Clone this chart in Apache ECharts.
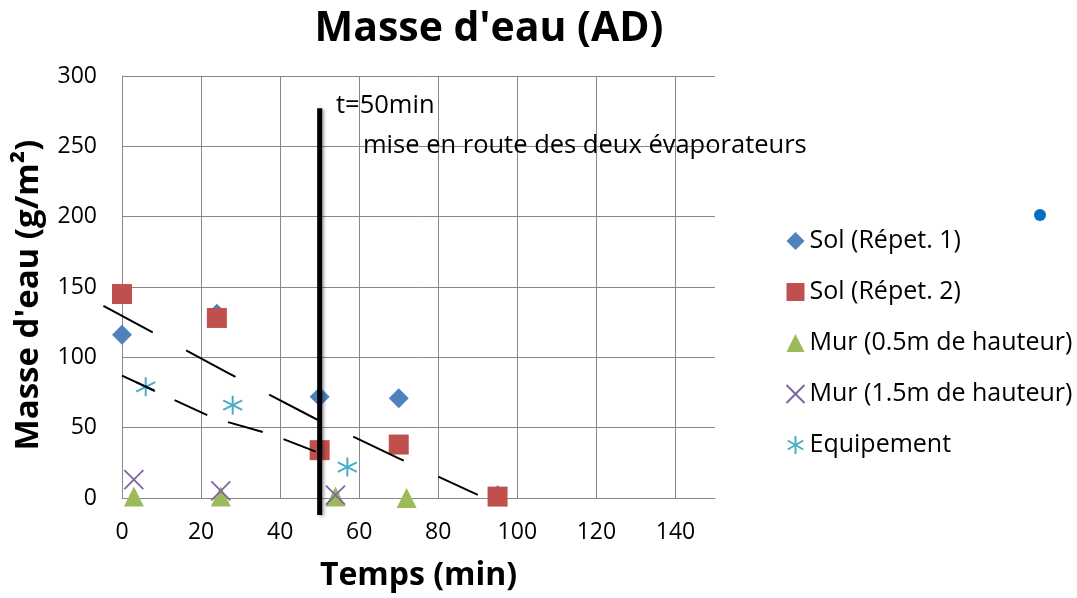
<!DOCTYPE html>
<html>
<head>
<meta charset="utf-8">
<script src="https://cdn.jsdelivr.net/npm/echarts@6/dist/echarts.min.js"></script>
<style>
html,body{margin:0;padding:0;background:#fff;}
#chart{width:1077px;height:598px;}
</style>
</head>
<body>
<div id="chart"></div>
<script>
// ---- data ----
const chartTitle = "Masse d'eau (AD)";
const xTitle = "Temps (min)";
const yTitle = "Masse d'eau (g/m²)";
const seriesNames = ['Sol (Répet. 1)', 'Sol (Répet. 2)', 'Mur (0.5m de hauteur)', 'Mur (1.5m de hauteur)', 'Equipement'];

const solRep1 = [[0, 116], [24, 131], [50, 72], [70, 71], [95, 2]];
const solRep2 = [[0, 145], [24, 128], [50, 34], [70, 38], [95, 1]];
const mur05 = [[3, 1], [25, 1], [54, 1], [72, 0]];
const mur15 = [[3, 13], [25, 5], [54, 2]];
const equipement = [[6, 79], [28, 66], [57, 22]];

// hand-drawn dashed trend lines and the t=50 min marker
const trendSol = [[-4.7, 136.6], [26.3, 89.6], [48.7, 56.7], [70, 28.2], [90, 2.2]];
const trendEquip = [[0, 87], [23, 57], [38, 45], [49, 33]];
const evapLine = [[50, -12], [50, 277]];
const annotation1 = 't=50min';
const annotation2 = 'mise en route des deux évaporateurs';

const xTicks = { min: 0, max: 150, interval: 20 };
const yTicks = { min: 0, max: 300, interval: 50 };

// ---- chart ----
const FONT = 'Open Sans';
const GRID_COLOR = '#888888';
const chart = echarts.init(document.getElementById('chart'), null, { renderer: 'canvas' });

const xPath = 'path://M0,0L10,10M10,0L0,10';
const starPath = 'path://M5,0L5,10M0.67,2.5L9.33,7.5M0.67,7.5L9.33,2.5';

const option = {
  backgroundColor: '#ffffff',
  animation: false,
  textStyle: { fontFamily: FONT },
  grid: { left: 122, right: 362, top: 76, bottom: 100 },
  legend: {
    orient: 'vertical',
    left: 779,
    top: 222,
    itemWidth: 18,
    itemHeight: 18,
    itemGap: 23,
    textStyle: { fontFamily: FONT, fontSize: 25, color: '#000', lineHeight: 28 },
    data: seriesNames
  },
  xAxis: {
    type: 'value',
    min: xTicks.min, max: xTicks.max, interval: xTicks.interval,
    name: xTitle,
    nameLocation: 'middle',
    nameGap: 62,
    nameTextStyle: { fontFamily: FONT, fontSize: 32, fontWeight: 'bold', color: '#000' },
    axisLine: { show: true, onZero: false, lineStyle: { color: GRID_COLOR, width: 1 } },
    axisTick: { show: false },
    axisLabel: { fontFamily: FONT, fontSize: 23, color: '#000', margin: 23, showMaxLabel: false },
    splitLine: { show: true, showMaxLine: false, lineStyle: { color: GRID_COLOR, width: 1 } }
  },
  yAxis: {
    type: 'value',
    min: yTicks.min, max: yTicks.max, interval: yTicks.interval,
    name: yTitle,
    nameLocation: 'middle',
    nameGap: 77,
    nameRotate: 90,
    nameTextStyle: { fontFamily: FONT, fontSize: 33, fontWeight: 'bold', color: '#000', padding: [0, 16, 0, 0] },
    axisLine: { show: true, onZero: false, lineStyle: { color: GRID_COLOR, width: 1 } },
    axisTick: { show: false },
    axisLabel: { fontFamily: FONT, fontSize: 23, color: '#000', margin: 25 },
    splitLine: { show: true, lineStyle: { color: GRID_COLOR, width: 1 } }
  },
  series: [
    {
      name: seriesNames[0], type: 'scatter', data: solRep1,
      symbol: 'diamond', symbolSize: 20,
      itemStyle: { color: '#4F81BD', opacity: 1 }, z: 2
    },
    {
      name: seriesNames[1], type: 'scatter', data: solRep2,
      symbol: 'rect', symbolSize: 20,
      itemStyle: { color: '#C0504D', opacity: 1 }, z: 2
    },
    {
      name: seriesNames[2], type: 'scatter', data: mur05,
      symbol: 'triangle', symbolSize: 20,
      itemStyle: { color: '#9BBB59', opacity: 1 }, z: 2
    },
    {
      name: seriesNames[3], type: 'scatter', data: mur15,
      symbol: xPath, symbolSize: 19,
      itemStyle: { color: 'none', borderColor: '#8064A2', borderWidth: 1.8, opacity: 1 }, z: 2
    },
    {
      name: seriesNames[4], type: 'scatter', data: equipement,
      symbol: starPath, symbolSize: 19,
      itemStyle: { color: 'none', borderColor: '#4BACC6', borderWidth: 2, opacity: 1 }, z: 2
    },
    {
      name: 'trendEquip', type: 'line', data: trendEquip,
      symbol: 'none', clip: false, silent: true, z: 3,
      lineStyle: { color: '#000', width: 2, type: [36, 22] }
    },
    {
      name: 'evap', type: 'line', data: evapLine,
      symbol: 'none', clip: false, silent: true, z: 4,
      lineStyle: { color: '#000', width: 5, cap: 'butt',
        shadowColor: 'rgba(0,0,0,0.35)', shadowBlur: 3, shadowOffsetX: 2, shadowOffsetY: 1 }
    }
  ],
  graphic: [
    {
      type: 'text', x: 489, y: 29, z: 10,
      style: { text: chartTitle, fontFamily: FONT, fontSize: 41, fontWeight: 'bold', fill: '#000', align: 'center', verticalAlign: 'middle' }
    },
    {
      type: 'text', x: 336, y: 106, z: 10,
      style: { text: annotation1, fontFamily: FONT, fontSize: 25.5, fill: '#000', align: 'left', verticalAlign: 'middle' }
    },
    {
      type: 'text', x: 363, y: 146, z: 10,
      style: { text: annotation2, fontFamily: FONT, fontSize: 25.5, fill: '#000', align: 'left', verticalAlign: 'middle' }
    },
    {
      type: 'circle', shape: { cx: 1040, cy: 215, r: 6 }, z: 10,
      style: { fill: '#0070C0' }
    }
  ]
};
chart.setOption(option);

// The Sol trend line starts left of the y axis; draw it through the chart's own scale
const trendSolPx = trendSol.map(p => chart.convertToPixel({ gridIndex: 0 }, p));
chart.setOption({
  graphic: [{
    id: 'trendSolLine', type: 'polyline', z: 3, silent: true,
    shape: { points: trendSolPx },
    style: { stroke: '#000', lineWidth: 2, fill: null, lineDash: [56, 38] }
  }]
});
</script>
</body>
</html>
